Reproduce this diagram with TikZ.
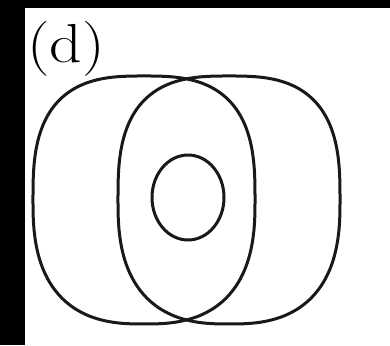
\documentclass[tikz,border=0pt]{standalone}
\begin{document}
\begin{tikzpicture}[x=1pt,y=-1pt,
  ring/.style={line width=3pt, draw=black!90, line join=round},
  lbl/.style={font=\fontsize{55}{60}\selectfont, inner sep=0pt, anchor=base west, xscale=1.16}]
\useasboundingbox (0,0) rectangle (390,345);
\fill[white] (0,0) rectangle (390,345);
\fill[black] (0,0) rectangle (25,345);
\fill[black] (0,0) rectangle (390,8);
\node[lbl] (label) at (27,63) {(d)};
% left shape
\draw[ring]
  plot[domain=0.5:179.5, samples=90, variable=\t]
  ({144 + 111*sign(cos(\t))*pow(abs(cos(\t)),0.77)},
   {200 + 124*pow(abs(sin(\t)),0.77)})
  -- plot[domain=180.5:359.5, samples=90, variable=\t]
  ({144 + 111*sign(cos(\t))*pow(abs(cos(\t)),0.7)},
   {200 - 124*pow(abs(sin(\t)),0.7)}) -- cycle;
% right shape
\draw[ring]
  plot[domain=0.5:179.5, samples=90, variable=\t]
  ({229 + 111*sign(cos(\t))*pow(abs(cos(\t)),0.77)},
   {200 + 124*pow(abs(sin(\t)),0.77)})
  -- plot[domain=180.5:359.5, samples=90, variable=\t]
  ({229 + 111*sign(cos(\t))*pow(abs(cos(\t)),0.7)},
   {200 - 124*pow(abs(sin(\t)),0.7)}) -- cycle;
% inner circle
\draw[ring] (188,197.5) ellipse [x radius=36, y radius=42.5];
\end{tikzpicture}
\end{document}
